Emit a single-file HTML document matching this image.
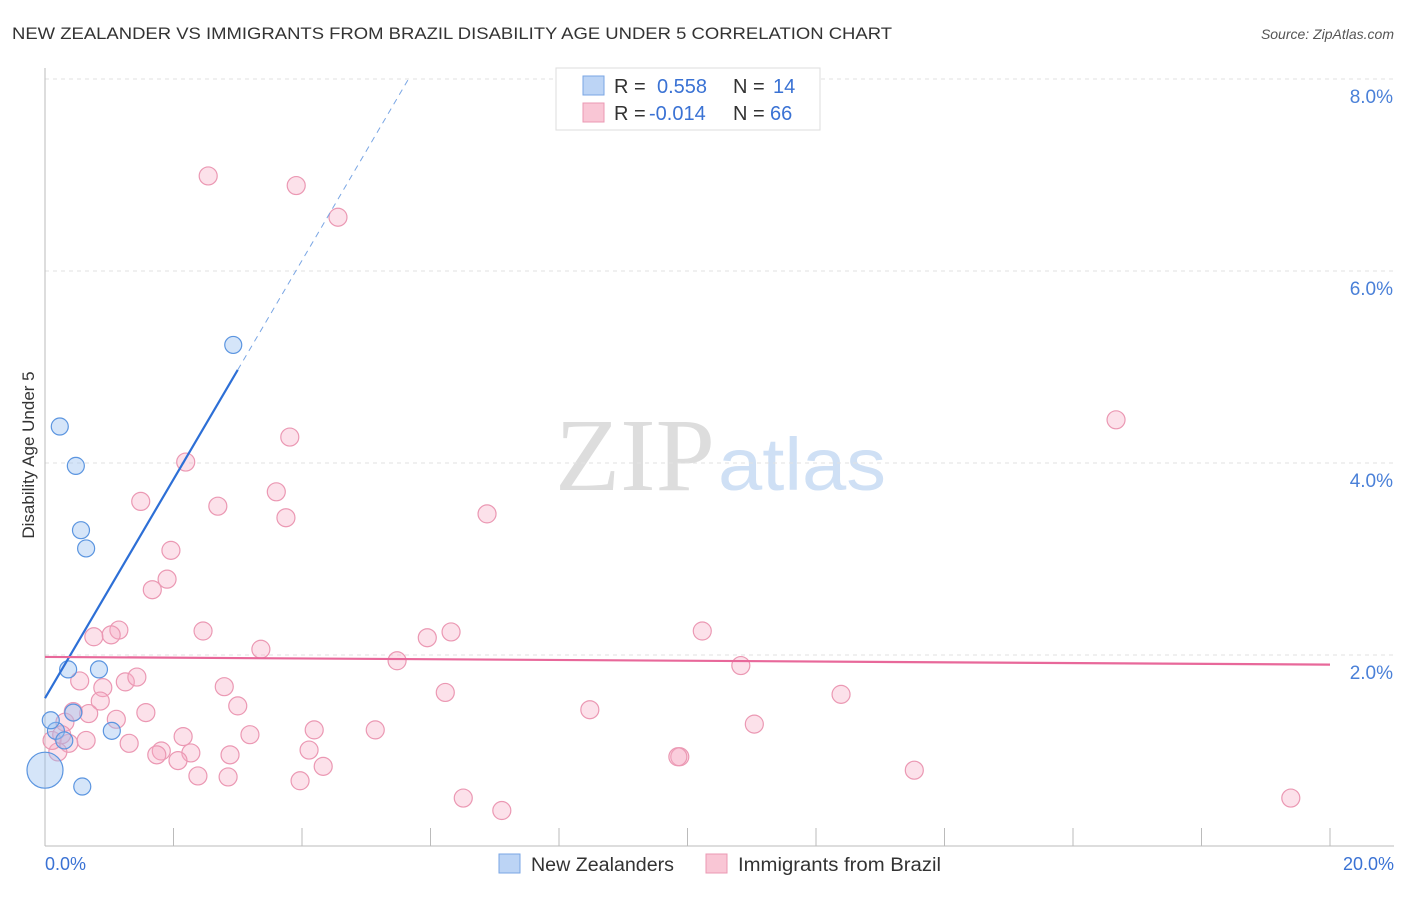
<!DOCTYPE html>
<html><head><meta charset="utf-8"><style>
body{margin:0;background:#fff;font-family:"Liberation Sans",sans-serif}
svg text{font-family:"Liberation Sans",sans-serif}
</style></head><body>
<svg width="1406" height="892">
<text x="12" y="39" font-size="17" fill="#333" textLength="880" lengthAdjust="spacingAndGlyphs">NEW ZEALANDER VS IMMIGRANTS FROM BRAZIL DISABILITY AGE UNDER 5 CORRELATION CHART</text>
<text x="1394" y="39" font-size="14" fill="#555" font-style="italic" text-anchor="end">Source: ZipAtlas.com</text>
<text x="555" y="490" font-size="104" fill="#ddd" textLength="160" lengthAdjust="spacingAndGlyphs" style="font-family:'Liberation Serif',serif">ZIP</text>
<text x="718" y="490" font-size="74" fill="#cfe0f5" textLength="168" lengthAdjust="spacingAndGlyphs">atlas</text>
<g id="grid"></g>
<line x1="45" y1="68" x2="45" y2="846" stroke="#bbb"/>
<line x1="45" y1="846" x2="1394" y2="846" stroke="#bbb"/>
<g id="xt"></g>
<text x="34" y="455" font-size="17" fill="#333" text-anchor="middle" transform="rotate(-90 34 455)">Disability Age Under 5</text>
<g id="pts"></g>
<g id="lines"></g>
<g>
<rect x="556" y="68" width="264" height="62" fill="#fff" stroke="#ddd"/>
<rect x="583" y="76" width="21" height="19" fill="#bcd4f5" stroke="#7aa6e4"/>
<rect x="583" y="103" width="21" height="19" fill="#f9c6d5" stroke="#eb98b3"/>
<text x="614" y="93" font-size="20" fill="#333">R =</text><text x="657" y="93" font-size="20" fill="#3a72d4">0.558</text>
<text x="733" y="93" font-size="20" fill="#333">N =</text><text x="773" y="93" font-size="20" fill="#3a72d4">14</text>
<text x="614" y="120" font-size="20" fill="#333">R =</text><text x="649" y="120" font-size="20" fill="#3a72d4">-0.014</text>
<text x="733" y="120" font-size="20" fill="#333">N =</text><text x="770" y="120" font-size="20" fill="#3a72d4">66</text>
</g>
<text x="45" y="870" font-size="18" fill="#3a72d4">0.0%</text>
<text x="1394" y="870" font-size="18" fill="#3a72d4" text-anchor="end">20.0%</text>
<g>
<rect x="499" y="854" width="21" height="19" fill="#bcd4f5" stroke="#7aa6e4"/>
<text x="531" y="871" font-size="19" fill="#333" textLength="143" lengthAdjust="spacingAndGlyphs">New Zealanders</text>
<rect x="706" y="854" width="21" height="19" fill="#f9c6d5" stroke="#eb98b3"/>
<text x="738" y="871" font-size="19" fill="#333" textLength="203" lengthAdjust="spacingAndGlyphs">Immigrants from Brazil</text>
</g>
</svg>
<script>
const yTicks=[2,4,6,8];
const yTickLabels=["2.0%","4.0%","6.0%","8.0%"];
const xTicks=[2,4,6,8,10,12,14,16,18,20];
const blueX=[0.23,0.48,0.56,0.64,2.93,0.36,0.84,0.44,1.04,0.17,0.30,0.09,0.0,0.58];
const blueY=[4.38,3.97,3.30,3.11,5.23,1.85,1.85,1.40,1.21,1.21,1.11,1.32,0.80,0.63];
const pinkX=[2.54,3.91,4.56,3.81,2.19,1.49,2.69,3.60,3.75,6.88,1.96,1.90,1.67,1.15,1.03,0.76,2.46,6.32,5.95,10.23,3.36,5.48,10.83,16.67,0.54,0.90,1.25,1.43,2.79,6.23,12.39,0.86,3.00,0.68,1.11,1.57,0.31,0.44,8.48,11.04,4.19,5.14,3.19,2.15,1.31,0.64,0.37,0.20,1.81,2.27,1.74,2.88,4.11,2.07,4.33,9.88,9.85,2.38,2.85,3.97,13.53,6.51,7.11,19.39,0.11,0.26];
const pinkY=[6.99,6.89,6.56,4.27,4.01,3.60,3.55,3.70,3.43,3.47,3.09,2.79,2.68,2.26,2.21,2.19,2.25,2.24,2.18,2.25,2.06,1.94,1.89,4.45,1.73,1.66,1.72,1.77,1.67,1.61,1.59,1.52,1.47,1.39,1.33,1.40,1.30,1.41,1.43,1.28,1.22,1.22,1.17,1.15,1.08,1.11,1.08,0.99,1.00,0.98,0.96,0.96,1.01,0.90,0.84,0.94,0.94,0.74,0.73,0.69,0.80,0.51,0.38,0.51,1.11,1.17];
const blueTrend=[1.55,1.14];
const pinkTrend=[1.98,-0.004];
const NS="http://www.w3.org/2000/svg";
const sx=v=>45+v*64.25, sy=v=>847-v*96;
function mk(t,a,p){const e=document.createElementNS(NS,t);for(const k in a)e.setAttribute(k,a[k]);p.appendChild(e);return e;}
const g=document.getElementById('grid');
yTicks.forEach((t,i)=>{
 const l=mk('line',{x1:45,x2:1394,y1:sy(t),y2:sy(t),stroke:'#e2e2e2','stroke-dasharray':'4 4'},g);
 
 
 const tx=mk('text',{x:1393,y:sy(t)+24,'font-size':19,fill:'#4a80d8','text-anchor':'end'},g);
 tx.textContent=yTickLabels[i];
 
 
});
const xt=document.getElementById('xt');
xTicks.forEach(t=>{
 const l=mk('line',{x1:sx(t),x2:sx(t),y1:828,y2:846,stroke:'#bbb'},xt);
 
 
});
const pts=document.getElementById('pts');
pinkX.forEach((x,i)=>{
 const c=mk('circle',{cx:sx(x),cy:sy(pinkY[i]),r:9,fill:'rgba(246,170,195,0.35)',stroke:'#eb98b3','stroke-width':1.2},pts);
 
 
});
blueX.forEach((x,i)=>{
 const c=mk('circle',{cx:sx(x),cy:sy(blueY[i]),r:x===0?18:8.5,fill:'rgba(150,190,240,0.4)',stroke:'#5b95e0','stroke-width':1.2},pts);
 
 
});
const lg=document.getElementById('lines');
const bf=x=>blueTrend[0]+blueTrend[1]*x, pf=x=>pinkTrend[0]+pinkTrend[1]*x;
const bx2=3.0, bx3=(8.0-blueTrend[0])/blueTrend[1];
let l1=mk('line',{x1:sx(0),y1:sy(bf(0)),x2:sx(bx2),y2:sy(bf(bx2)),stroke:'#2d6fd6','stroke-width':2.2},lg);


let l2=mk('line',{x1:sx(bx2),y1:sy(bf(bx2)),x2:sx(bx3),y2:sy(bf(bx3)),stroke:'#7aa6e4','stroke-width':1,'stroke-dasharray':'6 5'},lg);


let l3=mk('line',{x1:sx(0),y1:sy(pf(0)),x2:sx(20),y2:sy(pf(20)),stroke:'#e8689a','stroke-width':2.2},lg);


</script>
</body></html>
